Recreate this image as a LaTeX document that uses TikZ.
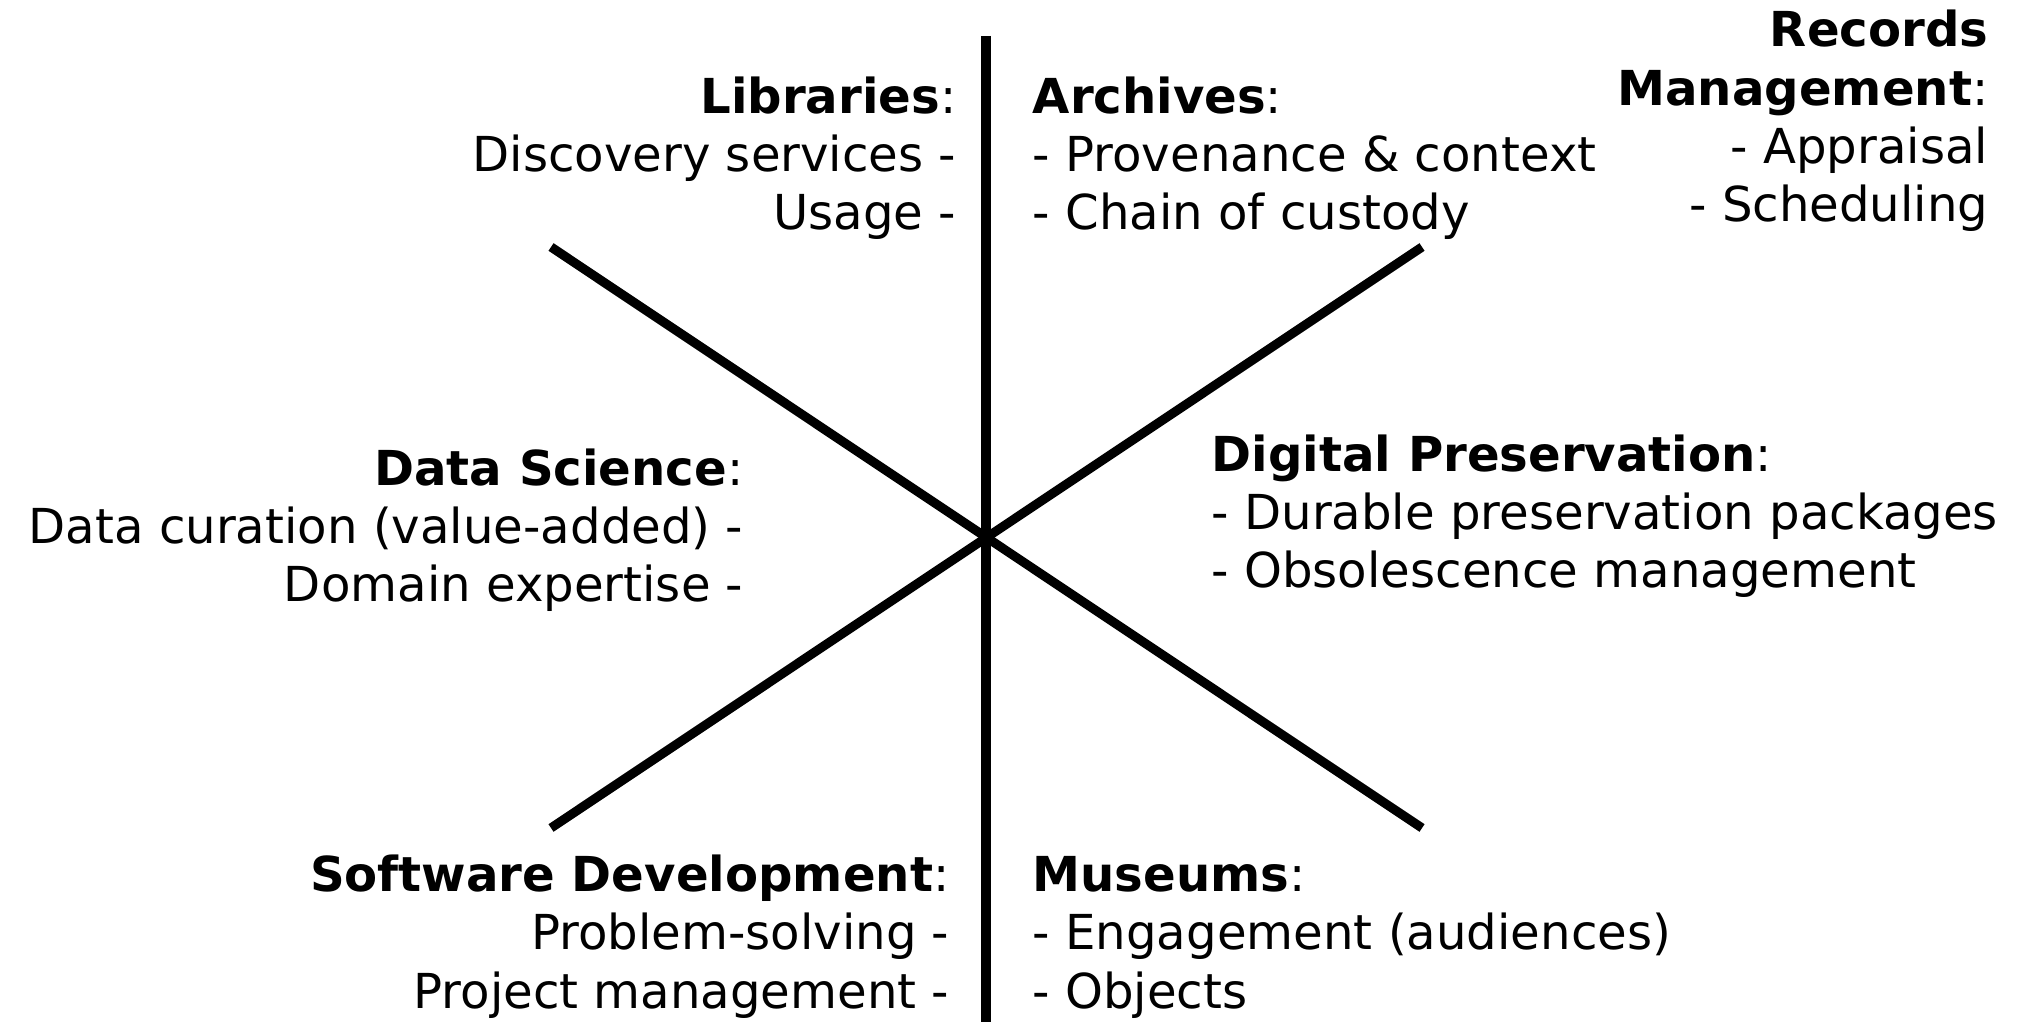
\documentclass[tikz,border=0pt]{standalone}
\usepackage{fontspec}
\setmainfont{DejaVu Sans}
\usetikzlibrary{positioning}

\begin{document}
\begin{tikzpicture}[x=0.01cm,y=-0.01cm,
    spoke/.style={line width=2.6pt,line cap=butt},
    txt/.style={inner sep=0pt,font=\fontsize{13.7pt}{16.6pt}\selectfont},
    lft/.style={txt,align=right,anchor=base east},
    rgt/.style={txt,align=left,anchor=base west}]
    \useasboundingbox (0,0) rectangle (2018,1022);
    % spokes
    \coordinate (c) at (986,538);
    \coordinate (top) at (986,36);
    \coordinate (bot) at (986,1022);
    \coordinate (nw) at (551,247);
    \coordinate (ne) at (1422,247);
    \coordinate (sw) at (551,828);
    \coordinate (se) at (1422,828);
    \draw[spoke] (top) -- (bot);
    \draw[spoke] (nw) -- (se);
    \draw[spoke] (sw) -- (ne);
    % fields (anchored at the baseline of the last line)
    \node[lft] (lib) at (957,230) {\textbf{Libraries}:\\Discovery services -\\Usage -};
    \node[rgt] (arch) at (1032,230) {\textbf{Archives}:\\- Provenance \& context\\- Chain of custody};
    \node[lft] (rec) at (1989,222) {\textbf{Records}\\\textbf{Management}:\\- Appraisal\\- Scheduling};
    \node[lft] (ds) at (744,602) {\textbf{Data Science}:\\Data curation (value-added) -\\Domain expertise -};
    \node[rgt] (dp) at (1211,588) {\textbf{Digital Preservation}:\\- Durable preservation packages\\- Obsolescence management};
    \node[lft] (sd) at (950,1008) {\textbf{Software Development}:\\Problem-solving -\\Project management -};
    \node[rgt] (mus) at (1032,1008) {\textbf{Museums}:\\- Engagement (audiences)\\- Objects};
\end{tikzpicture}
\end{document}
